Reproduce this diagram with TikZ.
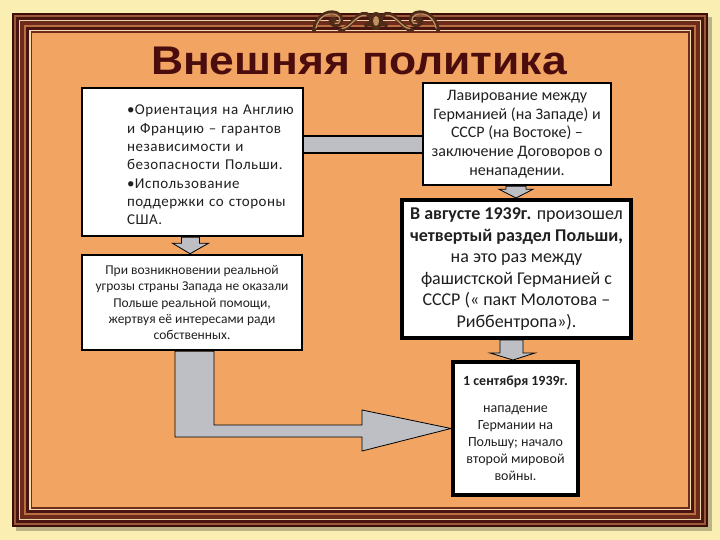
\documentclass[tikz,border=0pt]{standalone}
\usepackage{fontspec}
\setmainfont{Carlito}
\newfontfamily\titlefont{Liberation Sans}
\newfontfamily\spfont[LetterSpace=3.5]{Carlito}
\usetikzlibrary{calc}
\definecolor{bgy}{HTML}{FAEEB2}
\definecolor{panel}{HTML}{F2A462}
\definecolor{frA}{HTML}{3E0E0A}
\definecolor{frB}{HTML}{9A5A3A}
\definecolor{frC}{HTML}{4A1410}
\definecolor{frD}{HTML}{E9D6A8}
\definecolor{frE}{HTML}{6E2A1A}
\definecolor{frF}{HTML}{B87040}
\definecolor{frG}{HTML}{F4DDB0}
\definecolor{titlec}{HTML}{4A0C0C}
\definecolor{agray}{HTML}{BDBFC4}
\definecolor{ornD}{HTML}{4E2A18}
\definecolor{ornL}{HTML}{C09060}
\definecolor{txt}{HTML}{202020}
\tikzset{
  box/.style={draw=black, fill=white, line width=2.5pt, inner sep=0pt, align=center, text=txt},
  thickbox/.style={box, line width=4pt},
  garrow/.style={fill=agray, draw=black, line width=0.8pt, line join=miter},
  ornline/.style={draw=ornD, line width=4pt, line cap=round},
  ornhi/.style={draw=ornL, line width=1.3pt, line cap=round}
}
\begin{document}
\begin{tikzpicture}[x=1pt,y=-1pt]
\useasboundingbox (0,0) rectangle (720,540);
\fill[bgy] (0,0) rectangle (720,540);
% frame
\fill[black!25!bgy] (16,17) rectangle (712,531);
\foreach \ins/\col in {0/frA,2/frB,4/frC,7/frD,8/frE,12/frF,14/frC,17/frG,18.5/frE}
  \fill[\col] (12+\ins,13+\ins) rectangle (708-\ins,527-\ins);
\fill[panel] (32,33) rectangle (688,507);
% ornament
\foreach \sh in {0,1}{
\begin{scope}[shift={(752*\sh,0)}, xscale=1-2*\sh]
  \draw[ornline] (314,30) .. controls (316,18) and (326,10) .. (336,13) .. controls (344,16) and (342,27) .. (334,25) .. controls (328,23) and (331,17) .. (335,19);
  \draw[ornline] (340,30) .. controls (350,30) and (356,12) .. (366,14) .. controls (374,16) and (372,26) .. (366,25);
  \draw[ornhi] (316,28) .. controls (318,18) and (326,12) .. (336,14.5) .. controls (342,17) and (341,25) .. (335,23.5);
  \draw[ornhi] (342,28.5) .. controls (351,28) and (356,14) .. (366,15.5);
\end{scope}}
\fill[ornD] (376,21) ellipse (7pt and 9pt);
\fill[ornL] (376,21) ellipse (3pt and 5pt);
% title
\node[font=\titlefont\bfseries\fontsize{40}{46}\selectfont, text=titlec, anchor=base, xscale=1.11] (title) at (359,75) {Внешняя политика};
% boxes
\node[box, minimum width=221pt, minimum height=148pt] (lt) at (192.5,162) {};
\node[anchor=center, text width=185pt, align=left, inner sep=0pt, text=txt,
      font=\spfont\fontsize{15}{18.3}\selectfont] (ltt) at (219.5,165)
 {•Ориентация на Англию\\ и Францию – гарантов\\ независимости и\\ безопасности Польши.\\ •Использование\\ поддержки со стороны\\ США.};
\node[box, minimum width=220pt, minimum height=95pt, font=\fontsize{13.5}{16.4}\selectfont] (lb) at (192,302.5)
 {При возникновении реальной\\ угрозы страны Запада не оказали\\ Польше реальной помощи,\\ жертвуя её интересами ради\\ собственных.};
\node[box, minimum width=188pt, minimum height=102pt, font=\fontsize{16}{18.6}\selectfont] (rt) at (517,134)
 {Лавирование между\\ Германией (на Западе) и\\ СССР (на Востоке) –\\ заключение Договоров о\\ ненападении.};
\node[thickbox, minimum width=229pt, minimum height=138pt, font=\fontsize{18}{21.6}\selectfont] (rm) at (516.5,269)
 {\textbf{В августе 1939г.} произошел\\ \textbf{четвертый раздел Польши,}\\ на это раз между\\ фашистской Германией с\\ СССР (« пакт Молотова –\\ Риббентропа»).};
\node[thickbox, minimum width=125pt, minimum height=133pt, font=\fontsize{14}{17}\selectfont] (rb) at (515.5,428.5)
 {\textbf{1 сентября 1939г.}\\[10pt] нападение\\ Германии на\\ Польшу; начало\\ второй мировой\\ войны.};
% connector bar lt -> rt
\coordinate (cb1) at (0,136);
\coordinate (cb2) at (0,153);
\fill[agray] (lt.east |- cb1) rectangle (rt.west |- cb2);
\draw[line width=1.8pt] (lt.east |- cb1) -- (rt.west |- cb1);
\draw[line width=1.8pt] (lt.east |- cb2) -- (rt.west |- cb2);
% small down arrows
\draw[garrow] ($(lt.south)+(-11,0)$) -- ($(lt.south)+(7,0)$) -- ($(lt.south)+(7,6)$) -- ($(lt.south)+(16,6)$)
  -- ($(lb.north)+(-2,0)$) -- ($(lt.south)+(-20,6)$) -- ($(lt.south)+(-11,6)$) -- cycle;
\draw[garrow] ($(rt.south)+(-11,0)$) -- ($(rt.south)+(9,0)$) -- ($(rt.south)+(9,3)$) -- ($(rt.south)+(16,3)$)
  -- ($(rm.north)+(-0.5,0)$) -- ($(rt.south)+(-18,3)$) -- ($(rt.south)+(-11,3)$) -- cycle;
\draw[garrow] ($(rm.south)+(-16.5,0)$) -- ($(rm.south)+(6.5,0)$) -- ($(rm.south)+(6.5,13)$) -- ($(rm.south)+(18.5,13)$)
  -- ($(rb.north)+(-2.5,0)$) -- ($(rm.south)+(-26.5,13)$) -- ($(rm.south)+(-16.5,13)$) -- cycle;
% L-shaped arrow lb -> rb
\coordinate (Lh1) at (362,425);
\coordinate (Lh2) at (362,410);
\coordinate (Lh3) at (362,451);
\coordinate (Lh4) at (362,437);
\coordinate (Lc) at (175,437);
\draw[garrow] ($(lb.south)+(-17,0)$) -- ($(lb.south)+(22,0)$) |- (Lh1) -- (Lh2) -- (rb.west) -- (Lh3) -- (Lh4) -- (Lc) -- cycle;
\end{tikzpicture}
\end{document}
